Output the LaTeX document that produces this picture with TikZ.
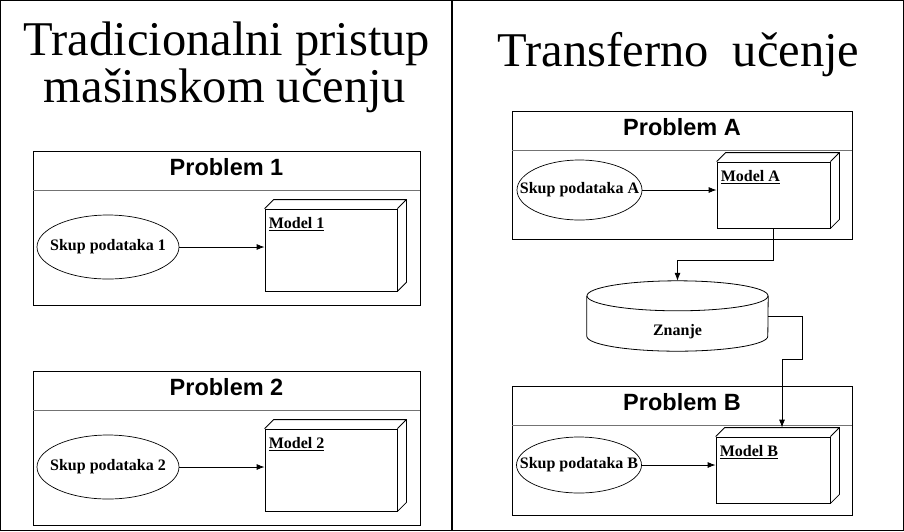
\documentclass[tikz,border=0pt]{standalone}
\usepackage{fontspec}
\setmainfont{Liberation Serif}
\newfontfamily\headfont{Liberation Sans}
\usetikzlibrary{calc,shapes.geometric,arrows.meta}

\begin{document}
\begin{tikzpicture}[x=1pt,y=-1pt,%
  problembox/.style={draw,line width=0.9pt},%
  headline/.style={draw=black!55,line width=0.7pt},%
  headtext/.style={anchor=base,font=\headfont\bfseries\fontsize{23.5}{26}\selectfont},%
  dataset/.style={draw,ellipse,line width=0.7pt,inner sep=0pt},%
  labeltext/.style={inner sep=0pt,font=\bfseries\fontsize{16}{18}\selectfont},%
  modelbox/.style={draw,line width=0.8pt,inner sep=0pt},%
  flow/.style={-{Latex[length=8pt,width=6pt]},line width=0.8pt},%
  titletext/.style={anchor=base,inner sep=0pt,font=\fontsize{48.5}{52}\selectfont}]%
\useasboundingbox (0,0) rectangle (904,531);%
\draw[line width=1.3pt] (0.65,0.65) rectangle (903.35,530.35);%
\draw[line width=1.3pt] (452,0) -- (452,531);%
%
\node[titletext] (title1a) at (227,55) {Tradicionalni pristup};%
\node[titletext] (title1b) at (225,102) {mašinskom učenju};%
\node[titletext] (title2) at (678.5,66) {Transferno\ \ učenje};%
%
\def\blk{1}%
\def\xpos{33}%
\def\ypos{151}%
\draw[problembox] (\xpos,\ypos) rectangle ++(387,154);%
\draw[headline] (\xpos,\ypos+39) -- ++(387,0);%
\node[headtext] (head\blk) at (\xpos+193.5,\ypos+24) {Problem 1};%
\node[dataset,minimum width=142pt,minimum height=64pt,label={[labeltext]center:Skup podataka 1}] (data\blk) at (108,\ypos+96) {};%
\node[modelbox,minimum width=132pt,minimum height=82pt] (model\blk) at (331,\ypos+99) {};%
\draw[modelbox] (model\blk.north west) -- ++(9,-9) -| ($(model\blk.south east)+(9,-9)$) -- (model\blk.south east) (model\blk.north east) -- ++(9,-9);%
\node[labeltext,anchor=north west] (mlab\blk) at ($(model\blk.north west)+(4,9)$) {\underline{Model 1}};%
\draw[flow] (data\blk.east) -- (data\blk.east -| model\blk.west);%
%
\def\blk{2}%
\def\ypos{371}%
\draw[problembox] (\xpos,\ypos) rectangle ++(387,154);%
\draw[headline] (\xpos,\ypos+39) -- ++(387,0);%
\node[headtext] (head\blk) at (\xpos+193.5,\ypos+24) {Problem 2};%
\node[dataset,minimum width=142pt,minimum height=64pt,label={[labeltext]center:Skup podataka 2}] (data\blk) at (108,\ypos+96) {};%
\node[modelbox,minimum width=132pt,minimum height=82pt] (model\blk) at (331,\ypos+99) {};%
\draw[modelbox] (model\blk.north west) -- ++(9,-9) -| ($(model\blk.south east)+(9,-9)$) -- (model\blk.south east) (model\blk.north east) -- ++(9,-9);%
\node[labeltext,anchor=north west] (mlab\blk) at ($(model\blk.north west)+(4,9)$) {\underline{Model 2}};%
\draw[flow] (data\blk.east) -- (data\blk.east -| model\blk.west);%
%
\def\blk{A}%
\def\xpos{512}%
\def\ypos{111}%
\draw[problembox] (\xpos,\ypos) rectangle ++(340,128);%
\draw[headline] (\xpos,\ypos+39) -- ++(340,0);%
\node[headtext] (head\blk) at (\xpos+170,\ypos+24) {Problem A};%
\node[dataset,minimum width=125pt,minimum height=60pt,label={[labeltext]center:Skup podataka A}] (data\blk) at (579.5,\ypos+79) {};%
\node[modelbox,minimum width=113pt,minimum height=66pt] (model\blk) at (773.5,\ypos+84) {};%
\draw[modelbox] (model\blk.north west) -- ++(9,-9) -| ($(model\blk.south east)+(9,-9)$) -- (model\blk.south east) (model\blk.north east) -- ++(9,-9);%
\node[labeltext,anchor=north west] (mlab\blk) at ($(model\blk.north west)+(4,9)$) {\underline{Model A}};%
\draw[flow] (data\blk.east) -- (data\blk.east -| model\blk.west);%
%
\def\blk{B}%
\def\ypos{386}%
\draw[problembox] (\xpos,\ypos) rectangle ++(340,129);%
\draw[headline] (\xpos,\ypos+39) -- ++(340,0);%
\node[headtext] (head\blk) at (\xpos+170,\ypos+24) {Problem B};%
\node[dataset,minimum width=125pt,minimum height=56pt,label={[labeltext]center:Skup podataka B}] (data\blk) at (579,\ypos+79) {};%
\node[modelbox,minimum width=114pt,minimum height=66pt] (model\blk) at (773,\ypos+84) {};%
\draw[modelbox] (model\blk.north west) -- ++(9,-9) -| ($(model\blk.south east)+(9,-9)$) -- (model\blk.south east) (model\blk.north east) -- ++(9,-9);%
\node[labeltext,anchor=north west] (mlab\blk) at ($(model\blk.north west)+(4,9)$) {\underline{Model B}};%
\draw[flow] (data\blk.east) -- (data\blk.east -| model\blk.west);%
\coordinate (top\blk) at ($(model\blk.north)+(9,-9)$);%
%
% Znanje
\node[minimum width=181pt,minimum height=70pt,inner sep=0pt] (know) at (677.5,316) {};%
\draw[modelbox] ($(know.north)+(0,15)$) ellipse [x radius=90.5pt,y radius=15pt];%
\draw[modelbox] ($(know.north west)+(0,15)$) -- ($(know.south west)+(0,-15)$) arc [start angle=180,end angle=360,x radius=90.5pt,y radius=15pt] -- ($(know.north east)+(0,15)$);%
\node[labeltext,anchor=base] (knowlabel) at (677.5,335) {Znanje};%
\draw[flow] (modelA.south) -- ++(0,32) -| (know.north);%
\draw[flow] (know.east) -- ++(34,0) |- ($(topB)+(0,-68)$) -- (topB);%
%
\end{tikzpicture}
\end{document}
